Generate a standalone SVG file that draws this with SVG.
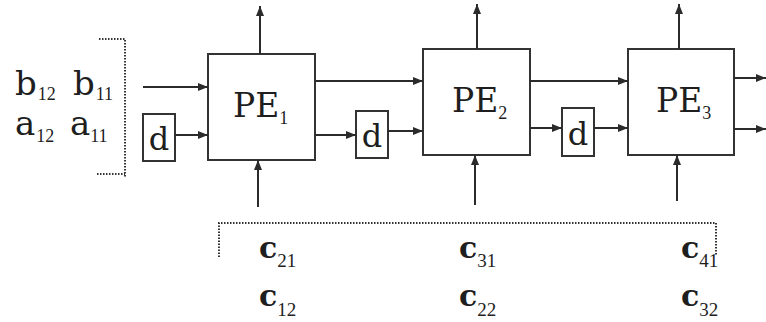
<svg xmlns="http://www.w3.org/2000/svg" width="766" height="322" viewBox="0 0 766 322">
<defs>
<marker id="ah" markerUnits="userSpaceOnUse" markerWidth="10" markerHeight="8" refX="10" refY="4" orient="auto">
<path d="M0,0 L10,4 L0,8 z" fill="#2b2b2b"/>
</marker>
<style>
.box{fill:#fff;stroke:#333;stroke-width:2}
.ln{fill:none;stroke:#2b2b2b;stroke-width:2;marker-end:url(#ah)}
.dot{fill:none;stroke:#333;stroke-width:2;stroke-dasharray:1.5 1.5}
.t{font-family:"DejaVu Serif","Liberation Serif",serif;fill:#1e1e1e}
.s{font-family:"Liberation Serif","DejaVu Serif",serif;font-weight:normal}
.big{font-size:34px}
.pe{font-size:33px}
.sub{font-size:18px}
.d{font-size:32px;text-anchor:middle}
.c{font-size:30px;font-weight:bold}
.cs{font-size:19px}
</style>
</defs>
<rect width="766" height="322" fill="#fff"/>

<g id="inputs">
<text class="t big" x="15" y="95">b<tspan class="s sub" dx="1" dy="5">12</tspan></text>
<text class="t big" x="73" y="95">b<tspan class="s sub" dx="1" dy="5">11</tspan></text>
<text class="t big" x="15" y="135">a<tspan class="s sub" dx="1" dy="7">12</tspan></text>
<text class="t big" x="70" y="135">a<tspan class="s sub" dx="0" dy="7">11</tspan></text>
<path class="dot" d="M99,39 H125 V177 M97,174 H125"/>
</g>

<g id="d1"><rect class="box" x="143" y="114" width="32" height="47"/><text class="t d" x="159" y="150">d</text></g>
<g id="PE1"><rect class="box" x="208" y="54" width="107" height="106"/><text class="t pe" x="233" y="117">PE<tspan class="s sub" dx="0" dy="7">1</tspan></text></g>
<g id="d2"><rect class="box" x="356" y="111" width="32" height="47"/><text class="t d" x="372" y="147">d</text></g>
<g id="PE2"><rect class="box" x="423" y="49" width="107" height="106"/><text class="t pe" x="452" y="112">PE<tspan class="s sub" dx="0" dy="7">2</tspan></text></g>
<g id="d3"><rect class="box" x="562" y="108" width="32" height="48"/><text class="t d" x="578" y="145">d</text></g>
<g id="PE3"><rect class="box" x="628" y="49" width="106" height="106"/><text class="t pe" x="656" y="112">PE<tspan class="s sub" dx="0" dy="7">3</tspan></text></g>

<g id="connectors">
<line class="ln" x1="143" y1="87" x2="208" y2="87"/>
<line class="ln" x1="175" y1="135" x2="208" y2="135"/>
<line class="ln" x1="260" y1="54" x2="260" y2="6"/>
<line class="ln" x1="258" y1="207" x2="258" y2="160"/>
<line class="ln" x1="315" y1="81" x2="423" y2="81"/>
<line class="ln" x1="315" y1="135" x2="356" y2="135"/>
<line class="ln" x1="388" y1="131" x2="423" y2="131"/>
<line class="ln" x1="477" y1="49" x2="477" y2="4"/>
<line class="ln" x1="475" y1="205" x2="475" y2="155"/>
<line class="ln" x1="530" y1="81" x2="628" y2="81"/>
<line class="ln" x1="530" y1="128" x2="562" y2="128"/>
<line class="ln" x1="594" y1="128" x2="628" y2="128"/>
<line class="ln" x1="679" y1="49" x2="679" y2="4"/>
<line class="ln" x1="677" y1="201" x2="677" y2="155"/>
<line class="ln" x1="734" y1="78" x2="766" y2="78"/>
<line class="ln" x1="734" y1="129" x2="766" y2="129"/>
</g>

<g id="outputs">
<path class="dot" d="M219,257 V223 H716 V255"/>
<text class="t c" x="259" y="258">c<tspan class="s cs" dx="0" dy="9">21</tspan></text>
<text class="t c" x="259" y="306">c<tspan class="s cs" dx="0" dy="10">12</tspan></text>
<text class="t c" x="459" y="258">c<tspan class="s cs" dx="0" dy="9">31</tspan></text>
<text class="t c" x="459" y="306">c<tspan class="s cs" dx="0" dy="10">22</tspan></text>
<text class="t c" x="681" y="258">c<tspan class="s cs" dx="0" dy="9">41</tspan></text>
<text class="t c" x="681" y="306">c<tspan class="s cs" dx="0" dy="10">32</tspan></text>
</g>
</svg>
